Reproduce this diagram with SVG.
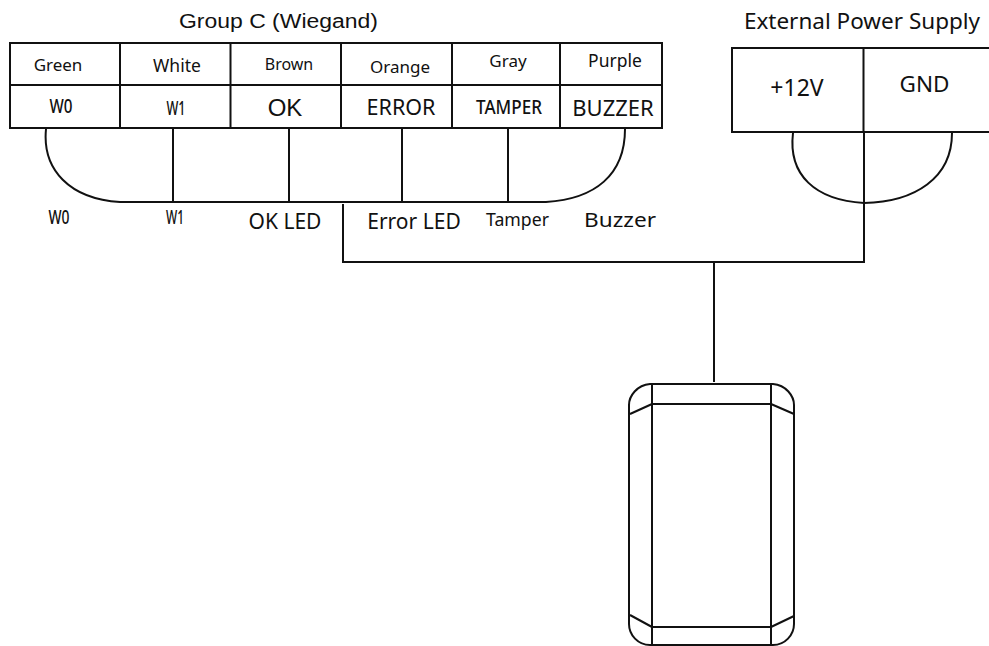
<svg xmlns="http://www.w3.org/2000/svg" width="989" height="646" viewBox="0 0 989 646">
<style>
.l{fill:none;stroke:#111;stroke-width:2}
.t{fill:#111;font-family:"Noto Sans","Open Sans",sans-serif;text-anchor:middle}
.a{font-family:"Liberation Sans",Arial,sans-serif}
.m{font-weight:500}
</style>
<rect width="989" height="646" fill="#fff"/>
<g id="connectors">
<path class="l" d="M46 129C42 170 70 199 120 202H546C595 199 625 175 625 129"/>
<path class="l" d="M173 129V202M289 129V202M402 129V202M508 129V202"/>
<path class="l" d="M793 133C788 175 815 200 864 203C915 202 952 178 952 133"/>
<path class="l" d="M864 133V262H343V204M714 262V382"/>
</g>
<g id="group-c">
<path class="l" d="M10 43H662V128H10ZM10 85H662M120 43V128M230.500 43V128M341 43V128M452 43V128M560 43V128"/>
<text class="t a" x="278.500" y="28" font-size="20" textLength="199" lengthAdjust="spacingAndGlyphs">Group C (Wiegand)</text>
<text class="t" x="58" y="71" font-size="17">Green</text>
<text class="t" x="177" y="72" font-size="17.500">White</text>
<text class="t" x="289" y="70" font-size="16">Brown</text>
<text class="t" x="400" y="73" font-size="17">Orange</text>
<text class="t" x="508" y="67" font-size="17">Gray</text>
<text class="t" x="615" y="67" font-size="17.500">Purple</text>
<text class="t m" x="61" y="113" font-size="20" textLength="23" lengthAdjust="spacingAndGlyphs">W0</text>
<text class="t m" x="176" y="115" font-size="19" textLength="19" lengthAdjust="spacingAndGlyphs">W1</text>
<text class="t a" x="285" y="116" font-size="24">OK</text>
<text class="t" x="401" y="115" font-size="21.500">ERROR</text>
<text class="t m" x="509" y="114" font-size="19" textLength="66" lengthAdjust="spacingAndGlyphs">TAMPER</text>
<text class="t" x="613" y="116" font-size="22">BUZZER</text>
<text class="t m" x="59" y="224" font-size="20" textLength="21" lengthAdjust="spacingAndGlyphs">W0</text>
<text class="t m" x="175" y="224" font-size="20" textLength="18" lengthAdjust="spacingAndGlyphs">W1</text>
<text class="t" x="285" y="229" font-size="21">OK LED</text>
<text class="t" x="414" y="229" font-size="21">Error LED</text>
<text class="t" x="517.500" y="226" font-size="17.500" textLength="63" lengthAdjust="spacingAndGlyphs">Tamper</text>
<text class="t" x="620" y="227" font-size="20" textLength="72" lengthAdjust="spacingAndGlyphs">Buzzer</text>
</g>
<g id="power-supply">
<path class="l" d="M990 48H732V132H990M863.500 48V132"/>
<text class="t" x="862" y="29" font-size="22.500">External Power Supply</text>
<text class="t" x="797" y="96" font-size="23">+12V</text>
<text class="t" x="924.500" y="92" font-size="22.500">GND</text>
</g>
<g id="reader">
<path class="l" d="M650 384H773C786 385 794 396 794 405V624C794 635 785 645 773 645H650C638 645 629 635 629 624V405C629 396 637 385 650 384Z"/>
<path class="l" d="M652 384V645M771 384V645M652 404H771M652 627H771"/>
<path class="l" d="M630 414L652 404M771 404L794 414M630 615L652 627M771 627L794 616"/>
</g>
</svg>
